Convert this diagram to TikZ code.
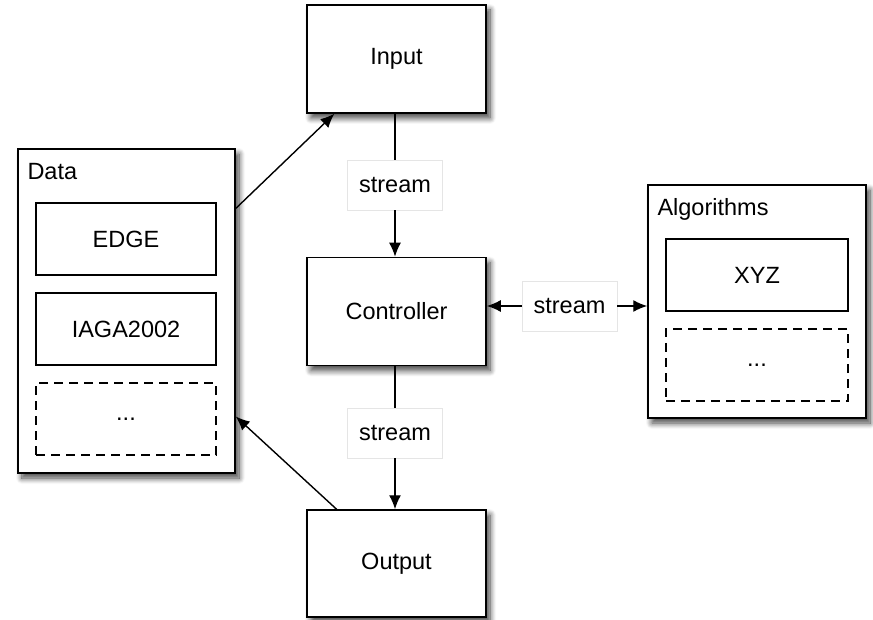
\documentclass[tikz,border=0pt]{standalone}
\usepackage{fontspec}
\setmainfont{Liberation Sans}
\usetikzlibrary{arrows.meta,calc,shadows.blur}

\begin{document}
\begin{tikzpicture}[x=1pt,y=-1pt,
		every node/.style={font=\fontsize{23.5}{28}\selectfont},
		shade/.style={blur shadow={shadow xshift=4pt,shadow yshift=-5pt,shadow blur radius=6pt,shadow blur steps=10,shadow opacity=75}},
		stage/.style={draw,line width=1.5pt,fill=white,shade,minimum width=179pt,minimum height=108pt},
		group/.style={draw,line width=1.5pt,fill=white,shade},
		item/.style={draw,line width=1.3pt,minimum width=180pt,minimum height=72pt},
		more/.style={item,dash pattern=on 9pt off 6pt},
		flow/.style={draw=black!10,line width=0.6pt,fill=white,minimum width=95pt,minimum height=50pt},
		link/.style={line width=1.4pt},
		arr/.style={link,-{Latex[length=14pt,width=12pt]}}]
	\useasboundingbox (0,0) rectangle (873,620);
	\node[group,minimum width=217pt,minimum height=324pt] (data) at (126.5,311) {};
	\node[anchor=base west] (datatitle) at (24,180) {Data};
	\node[item] (edge) at (126,239) {EDGE};
	\node[item] (iaga) at (126,329) {IAGA2002};
	\node[more] (datamore) at (126,419) {...};
	\node[group,minimum width=218pt,minimum height=233pt] (algo) at (757,301.5) {};
	\node[anchor=base west] (algotitle) at (654,216) {Algorithms};
	\node[item,minimum width=182pt] (xyz) at (757,275) {XYZ};
	\node[more,minimum width=182pt] (algomore) at (757,365) {...};
	\node[stage] (input) at (396.5,59) {Input};
	\node[stage] (ctrl) at (396.5,311.5) {Controller};
	\node[stage,minimum height=107pt] (output) at (396.5,563.5) {Output};
	\node[flow] (s1) at (395,185) {stream};
	\node[flow] (s2) at (395,433) {stream};
	\node[flow] (s3) at (569.5,306) {stream};
	\draw[link] (input.south -| s1.north) -- (s1.north);
	\draw[arr] (s1.south) -- (s1.south |- ctrl.north);
	\draw[link] (ctrl.south -| s2.north) -- (s2.north);
	\draw[arr] (s2.south) -- (s2.south |- output.north);
	\draw[arr] (s3.west) -- (s3.west -| ctrl.east);
	\draw[arr] (s3.east) -- (s3.east -| algo.west);
	\draw[arr] ($(data.north east)!0.185!(data.south east)$) -- ($(input.south west)!0.156!(input.south east)$);
	\draw[arr] ($(output.north west)!0.168!(output.north east)$) -- ($(data.north east)!0.824!(data.south east)$);
\end{tikzpicture}
\end{document}
